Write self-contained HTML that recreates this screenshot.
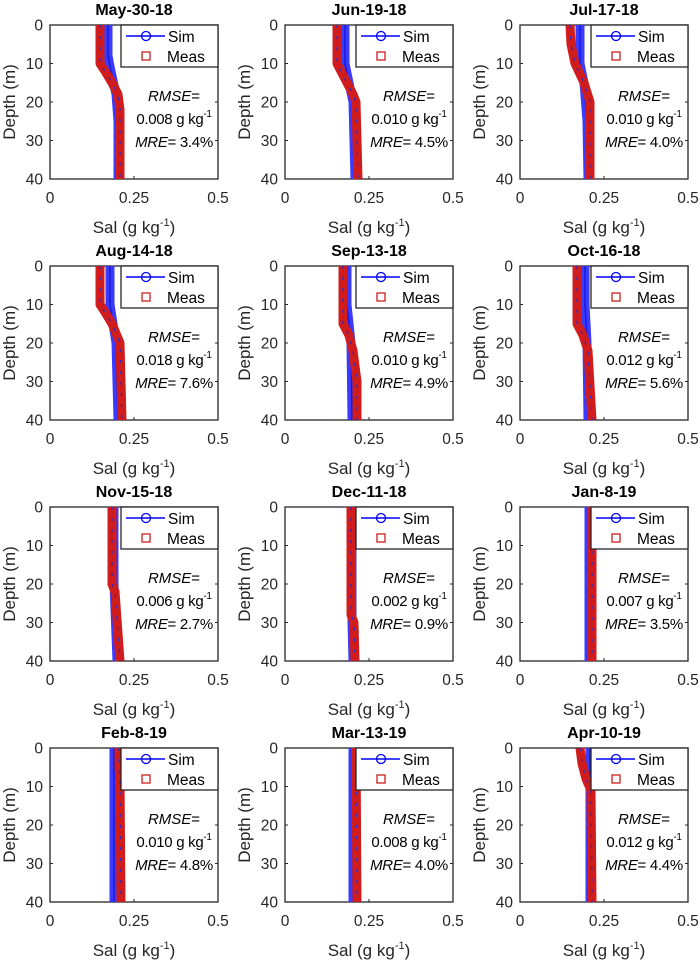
<!DOCTYPE html>
<html><head><meta charset="utf-8">
<style>
html,body{margin:0;padding:0;background:#fff;}
svg{display:block;font-family:"Liberation Sans",Arial,sans-serif;}
</style></head>
<body>
<svg id="s" width="700" height="963" viewBox="0 0 700 963" xmlns="http://www.w3.org/2000/svg"></svg>
<script>
const W=168,H=154;
const cols=[50,285,520], rows=[25,266,507,748];
const P=[
 ["May-30-18",[[0,58],[8,58],[12,61],[18,66],[25,68],[40,68]],[[0,50],[10,50],[12,55],[15,62],[18,68],[22,70],[40,70]],"0.008","3.4"],
 ["Jun-19-18",[[0,60],[10,60],[15,64],[20,68],[40,70]],[[0,52],[10,52],[13,58],[18,68],[20,71],[40,73]],"0.010","4.5"],
 ["Jul-17-18",[[0,60],[10,60],[15,64],[25,67],[40,68]],[[0,50],[5,51],[10,55],[15,64],[20,70],[40,70]],"0.010","4.0"],
 ["Aug-14-18",[[0,60],[10,60],[15,63],[20,66],[40,68]],[[0,50],[10,50],[12,55],[15,62],[20,70],[40,72]],"0.018","7.6"],
 ["Sep-13-18",[[0,62],[10,62],[15,64],[20,66],[40,67]],[[0,58],[15,58],[18,64],[22,68],[30,72],[40,72]],"0.010","4.9"],
 ["Oct-16-18",[[0,65],[10,65],[20,67],[40,68]],[[0,57],[15,57],[18,63],[22,68],[40,72]],"0.012","5.6"],
 ["Nov-15-18",[[0,64],[20,64],[40,67]],[[0,62],[20,62],[22,65],[40,70]],"0.006","2.7"],
 ["Dec-11-18",[[0,67],[30,67],[40,68]],[[0,66],[28,66],[30,69],[40,70]],"0.002","0.9"],
 ["Jan-8-19",[[0,69],[40,69]],[[0,72],[40,72]],"0.007","3.5"],
 ["Feb-8-19",[[0,64],[40,64]],[[0,69],[5,69],[8,70],[40,71]],"0.010","4.8"],
 ["Mar-13-19",[[0,68],[40,68]],[[0,71],[40,72]],"0.008","4.0"],
 ["Apr-10-19",[[0,70],[40,70]],[[0,60],[4,62],[8,66],[11,71],[40,72]],"0.012","4.4"]
];
let o='';
function pts(a,x0,y0){return a.map(p=>(x0+p[1])+','+(y0+p[0]/40*H)).join(' ');}
P.forEach((p,i)=>{
 const x0=cols[i%3], y0=rows[Math.floor(i/3)], cx=x0+W/2;
 o+=`<rect x="${x0}" y="${y0}" width="${W}" height="${H}" fill="#fff" stroke="#262626" stroke-width="1.3"/>`;
 for(let k=0;k<=4;k++){const y=y0+k*H/4;
  o+=`<line x1="${x0}" y1="${y}" x2="${x0+3}" y2="${y}" stroke="#262626"/><line x1="${x0+W}" y1="${y}" x2="${x0+W-3}" y2="${y}" stroke="#262626"/>`;
  o+=`<text x="${x0-7}" y="${y+5.5}" font-size="15.5" fill="#262626" text-anchor="end">${k*10}</text>`;}
 [[0,'0'],[84,'0.25'],[168,'0.5']].forEach(t=>{
  o+=`<line x1="${x0+t[0]}" y1="${y0+H}" x2="${x0+t[0]}" y2="${y0+H-3}" stroke="#262626"/><line x1="${x0+t[0]}" y1="${y0}" x2="${x0+t[0]}" y2="${y0+3}" stroke="#262626"/>`;
  o+=`<text x="${x0+t[0]}" y="${y0+H+24}" font-size="15.5" fill="#262626" text-anchor="middle">${t[1]}</text>`;});
 o+=`<text x="${cx}" y="${y0+H+54}" font-size="17" fill="#262626" text-anchor="middle">Sal (g kg<tspan font-size="11" dy="-7">-1</tspan><tspan dy="7">)</tspan></text>`;
 o+=`<text transform="translate(${x0-35},${y0+H/2}) rotate(-90)" font-size="17" fill="#262626" text-anchor="middle">Depth (m)</text>`;
 o+=`<text x="${cx}" y="${y0-10}" font-size="16" font-weight="bold" fill="#000" text-anchor="middle">${p[0]}</text>`;
 const sp=pts(p[1],x0,y0), mp=pts(p[2],x0,y0);
 o+=`<polyline points="${sp}" fill="none" stroke="#3b3bff" stroke-width="9" stroke-linejoin="round"/>`;
 o+=`<polyline points="${sp}" fill="none" stroke="#1a1ad8" stroke-width="1.5"/>`;
 o+=`<polyline points="${mp}" fill="none" stroke="#d01c1c" stroke-width="9" stroke-linejoin="round"/>`;
 o+=`<polyline points="${mp}" fill="none" stroke="#2a2acc" stroke-width="1.3" stroke-dasharray="3 8"/>`;
 const lx=x0+71;
 o+=`<rect x="${lx}" y="${y0}" width="${W-71}" height="42" fill="#fff" stroke="#262626" stroke-width="1.3"/>`;
 o+=`<line x1="${lx+5}" y1="${y0+11}" x2="${lx+44}" y2="${y0+11}" stroke="#0000ff" stroke-width="1.5"/><circle cx="${lx+25}" cy="${y0+11}" r="4.5" fill="none" stroke="#0000ff" stroke-width="1.3"/>`;
 o+=`<text x="${lx+47}" y="${y0+17}" font-size="15.5" fill="#000">Sim</text>`;
 o+=`<rect x="${lx+21}" y="${y0+27}" width="8" height="8" fill="none" stroke="#d01c1c" stroke-width="1.3"/>`;
 o+=`<text x="${lx+46}" y="${y0+37}" font-size="15.5" fill="#000">Meas</text>`;
 const tx=x0+124;
 o+=`<text x="${tx}" y="${y0+76}" font-size="15" text-anchor="middle"><tspan font-style="italic">RMSE</tspan>=</text>`;
 o+=`<text x="${tx}" y="${y0+99}" font-size="15" text-anchor="middle" letter-spacing="-0.3">${p[3]} g kg<tspan font-size="10" dy="-7">-1</tspan></text>`;
 o+=`<text x="${tx}" y="${y0+122}" font-size="15" text-anchor="middle" letter-spacing="-0.3"><tspan font-style="italic">MRE</tspan>= ${p[4]}%</text>`;
});
document.getElementById('s').innerHTML=o;
</script>
</body></html>
